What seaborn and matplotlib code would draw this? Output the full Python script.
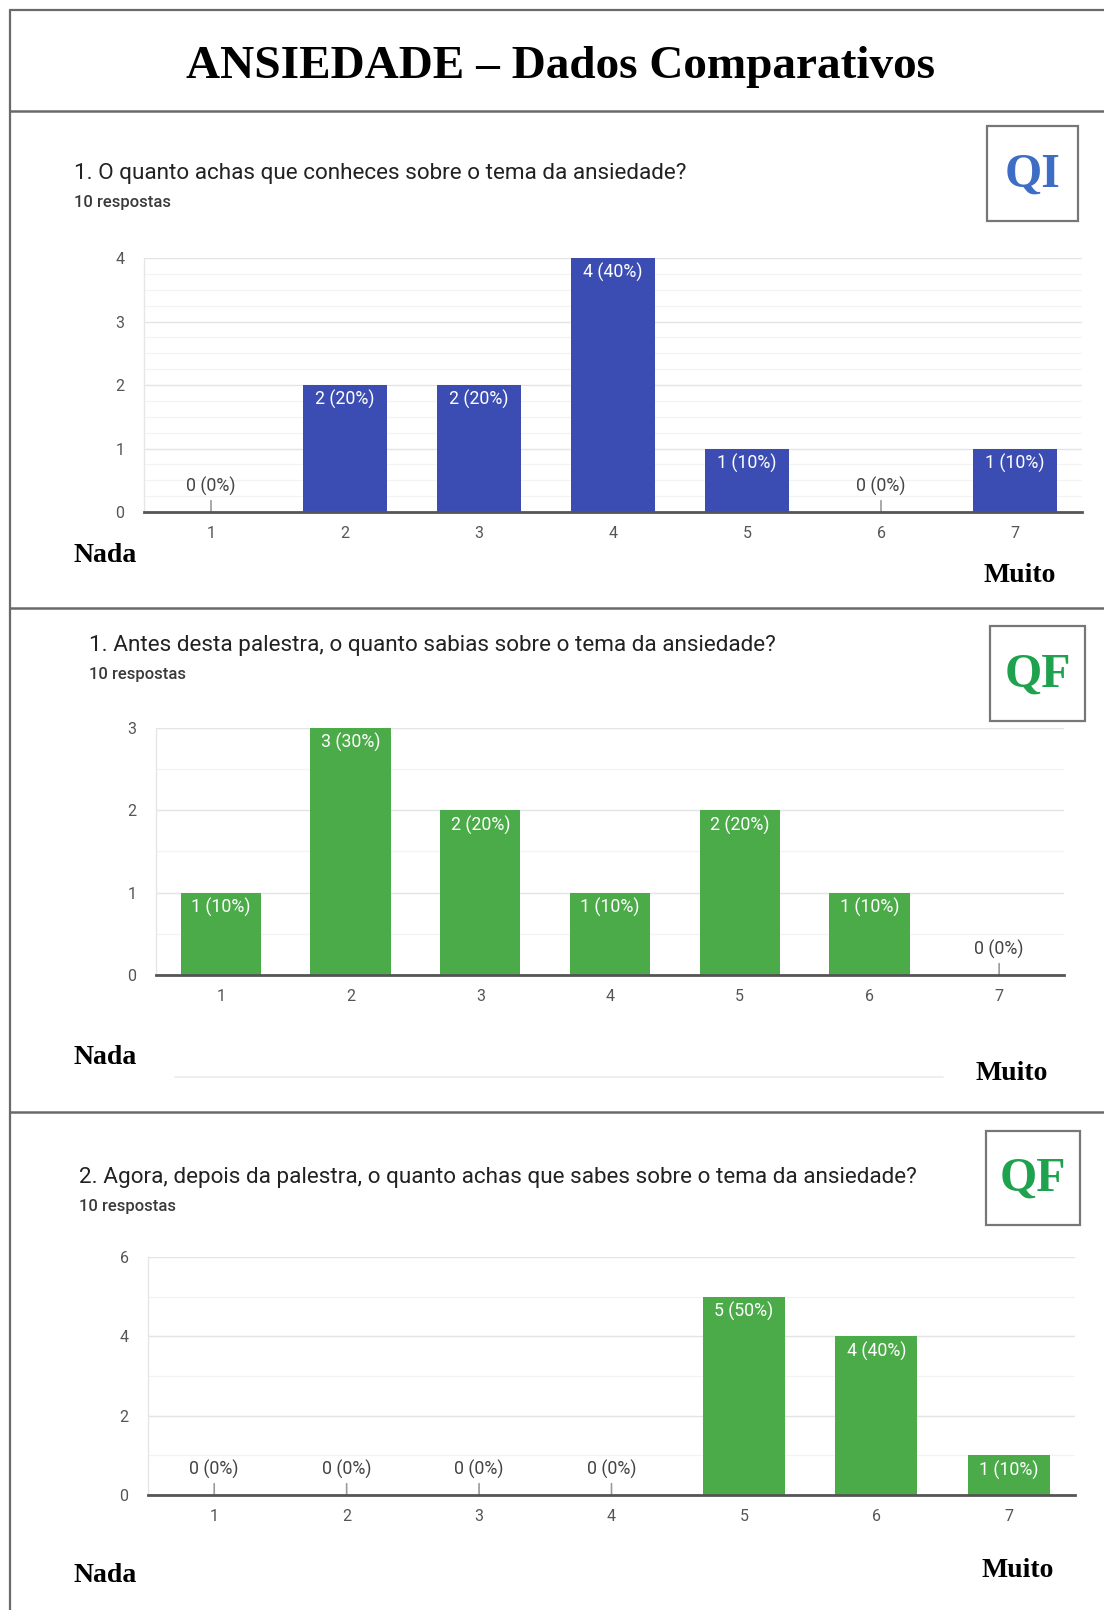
import matplotlib
matplotlib.use("Agg")
import matplotlib.pyplot as plt
import seaborn as sns
from matplotlib.lines import Line2D
from matplotlib.patches import Rectangle
from matplotlib.ticker import MultipleLocator

# ---------------- data ----------------
categories = ["1", "2", "3", "4", "5", "6", "7"]
qi_counts = [0, 2, 2, 4, 1, 0, 1]
qf_before_counts = [1, 3, 2, 1, 2, 1, 0]
qf_after_counts = [0, 0, 0, 0, 5, 4, 1]
n_responses = 10

title_text = "ANSIEDADE – Dados Comparativos"
questions = [
    "1. O quanto achas que conheces sobre o tema da ansiedade?",
    "1. Antes desta palestra, o quanto sabias sobre o tema da ansiedade?",
    "2. Agora, depois da palestra, o quanto achas que sabes sobre o tema da ansiedade?",
]
responses_text = "10 respostas"
tags = ["QI", "QF", "QF"]
low_label = "Nada"
high_label = "Muito"

# ---------------- style ----------------
sns.set_theme(style="white")
plt.rcParams["font.family"] = ["Roboto", "DejaVu Sans"]

W, H = 1104, 1610
fig = plt.figure(figsize=(W / 100, H / 100), dpi=100)
fig.patch.set_facecolor("white")

BLUE = "#3b4db3"
GREEN = "#4aab48"
QI_COLOR = "#3d6dc5"
QF_COLOR = "#1ea24e"
SERIF = ["Liberation Serif", "DejaVu Serif"]


def rect(left, top, right, bottom):
    return [left / W, 1 - bottom / H, (right - left) / W, (bottom - top) / H]


def fx(x):
    return x / W


def fy(y):
    return 1 - y / H


# ---------------- frame ----------------
frame_color = "#6a6a6a"
fig.add_artist(Line2D([fx(10), fx(1104)], [fy(10), fy(10)], color=frame_color, lw=1.6))
fig.add_artist(Line2D([fx(10), fx(10)], [fy(10), fy(1610)], color=frame_color, lw=1.6))
for ysep in [111, 608, 1112]:
    fig.add_artist(Line2D([fx(10), fx(1104)], [fy(ysep), fy(ysep)], color=frame_color, lw=1.8))

fig.text(fx(560), fy(67), title_text, family=SERIF, weight="bold", fontsize=34,
         ha="center", va="center", color="black")

# ---------------- panels ----------------
panels = [
    dict(counts=qi_counts, color=BLUE, tag=0, box=(987, 126, 1078, 221),
         ax=(144, 258, 1082, 512), ymax=4, minor=0.25,
         q=(74, 173), r=(74, 203), nada=(74, 556), muito=(984, 576)),
    dict(counts=qf_before_counts, color=GREEN, tag=1, box=(990, 626, 1085, 721),
         ax=(156, 728, 1064, 975), ymax=3, minor=0.5,
         q=(89, 646), r=(89, 675), nada=(74, 1057), muito=(976, 1073)),
    dict(counts=qf_after_counts, color=GREEN, tag=2, box=(986, 1131, 1080, 1225),
         ax=(148, 1257, 1075, 1495), ymax=6, minor=1,
         q=(79, 1177), r=(79, 1206), nada=(74, 1575), muito=(981, 1570)),
]

for i, p in enumerate(panels):
    # question + responses
    fig.text(fx(p["q"][0]), fy(p["q"][1]), questions[i], fontsize=16.2,
             color="#222222", ha="left", va="center")
    fig.text(fx(p["r"][0]), fy(p["r"][1]), responses_text, fontsize=12,
             color="#3a3a3a", ha="left", va="center", weight="medium")

    # tag box
    l, t, r, b = p["box"]
    fig.add_artist(Rectangle((fx(l), fy(b)), fx(r) - fx(l), fy(t) - fy(b),
                             fill=False, edgecolor="#777777", lw=1.6,
                             transform=fig.transFigure))
    tag_color = QI_COLOR if tags[i] == "QI" else QF_COLOR
    fig.text(fx((l + r) / 2), fy((t + b) / 2 + 1), tags[i], family=SERIF, weight="bold",
             fontsize=34.5, color=tag_color, ha="center", va="center")

    # Nada / Muito
    fig.text(fx(p["nada"][0]), fy(p["nada"][1]), low_label, family=SERIF, weight="bold",
             fontsize=20, color="black", ha="left", va="center")
    fig.text(fx(p["muito"][0]), fy(p["muito"][1]), high_label, family=SERIF, weight="bold",
             fontsize=20, color="black", ha="left", va="center")

    # chart
    ax = fig.add_axes(rect(*p["ax"]))
    sns.barplot(x=categories, y=p["counts"], color=p["color"], saturation=1,
                width=0.62, linewidth=0, ax=ax)
    ax.set_xlim(-0.5, len(categories) - 0.5)
    ax.set_ylim(0, p["ymax"])
    ax.yaxis.set_major_locator(MultipleLocator(1 if p["ymax"] <= 4 else 2))
    ax.yaxis.set_minor_locator(MultipleLocator(p["minor"]))
    ax.grid(True, which="major", axis="y", color="#e4e4e4", lw=1.0)
    ax.grid(True, which="minor", axis="y", color="#f3f3f3", lw=0.9)
    ax.set_axisbelow(True)
    ax.set_xlabel("")
    ax.set_ylabel("")
    for s in ["top", "right"]:
        ax.spines[s].set_visible(False)
    ax.spines["left"].set_color("#e6e6e6")
    ax.spines["left"].set_linewidth(1.0)
    ax.spines["bottom"].set_color("#555555")
    ax.spines["bottom"].set_linewidth(2.0)
    ax.spines["bottom"].set_zorder(5)
    ax.tick_params(axis="both", which="both", length=0, labelsize=11.5, colors="#555555")
    ax.tick_params(axis="y", pad=14)
    ax.tick_params(axis="x", pad=10)

    for xi, v in enumerate(p["counts"]):
        label = f"{v} ({round(v / n_responses * 100)}%)"
        if v > 0:
            ax.annotate(label, xy=(xi, v), xytext=(0, -5), textcoords="offset pixels",
                        ha="center", va="top", color="white", fontsize=12.8)
        else:
            ax.annotate(label, xy=(xi, 0), xytext=(0, 16), textcoords="offset pixels",
                        ha="center", va="bottom", color="#444444", fontsize=12.8,
                        arrowprops=dict(arrowstyle="-", color="#9a9a9a", lw=1.2,
                                        shrinkA=1, shrinkB=0))

# faint artefact line under panel 2
fig.add_artist(Line2D([fx(175), fx(943)], [fy(1077), fy(1077)], color="#ececec", lw=1.2))

fig.savefig("out.png", dpi=100, facecolor="white")
